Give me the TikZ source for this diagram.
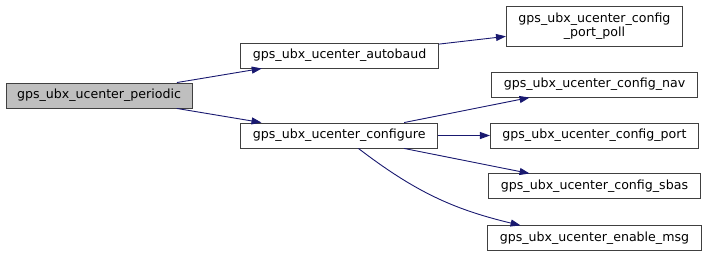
\documentclass[tikz,border=0pt]{standalone}
\usepackage{fontspec}
\setmainfont{DejaVu Sans}
\usetikzlibrary{arrows.meta,positioning}
\definecolor{edgeblue}{HTML}{191970}
\definecolor{rootgray}{HTML}{BFBFBF}

\begin{document}
\begin{tikzpicture}[
  x=1pt,y=1pt,
  ->,>={Triangle[length=10pt,width=7pt]},line width=0.9pt,
  every node/.style={align=center},
  fn/.style={rectangle,draw=black!75,fill=white,minimum height=25pt,inner xsep=12pt,inner ysep=2pt,font=\fontsize{12.6}{14.5}\selectfont},
  root/.style={fn,fill=rootgray,inner xsep=11pt},
  call/.style={edgeblue}
]
\useasboundingbox (0,0) rectangle (709,-255);
\node[root] (periodic) at (99,-95.5) {gps\_ubx\_ucenter\_periodic};
\node[fn,right=48pt of periodic,yshift=40pt] (autobaud) {gps\_ubx\_ucenter\_autobaud};
\node[fn,right=48pt of periodic,yshift=-40pt] (configure) {gps\_ubx\_ucenter\_configure};
\node[fn,right=52pt of configure] (port) {gps\_ubx\_ucenter\_config\_port};
\node[fn,above=25pt of port] (nav) {gps\_ubx\_ucenter\_config\_nav};
\node[fn,above=25pt of nav,minimum height=40pt] (portpoll) {gps\_ubx\_ucenter\_config\\\_port\_poll};
\node[fn,below=25pt of port] (sbas) {gps\_ubx\_ucenter\_config\_sbas};
\node[fn,below=26pt of sbas] (enablemsg) {gps\_ubx\_ucenter\_enable\_msg};
\draw[call] (periodic) -- (autobaud);
\draw[call] (periodic) -- (configure);
\draw[call] (autobaud) -- (portpoll);
\draw[call] (configure) -- (nav);
\draw[call] (configure) -- (port);
\draw[call] (configure) -- (sbas);
\draw[call] (configure) to[bend right=12] (enablemsg);
\end{tikzpicture}
\end{document}
